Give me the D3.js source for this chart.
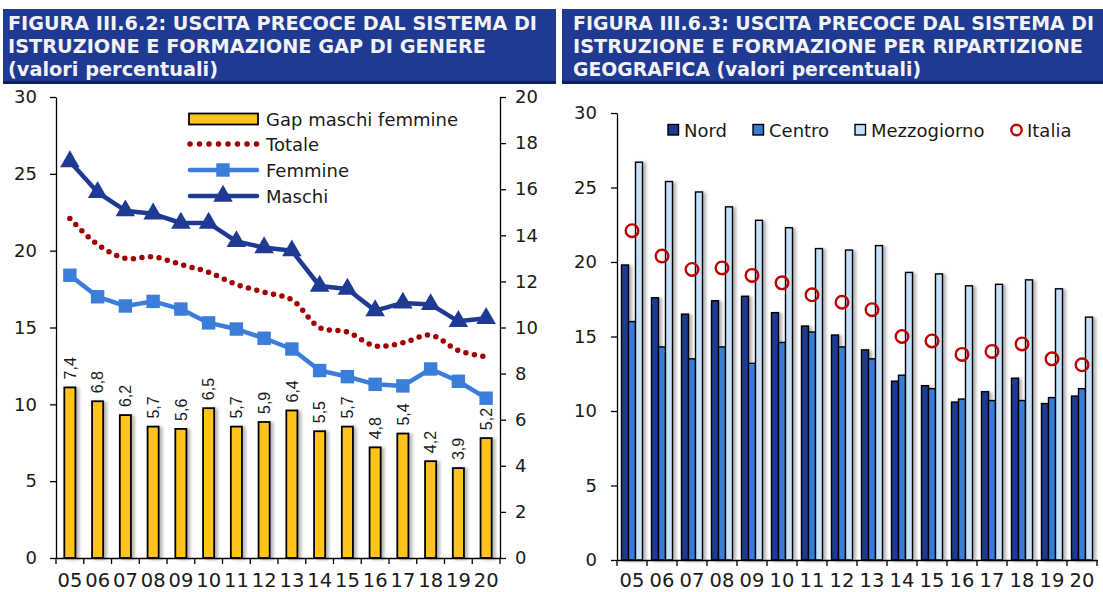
<!DOCTYPE html>
<html><head><meta charset="utf-8">
<script src="https://cdn.jsdelivr.net/npm/d3@7"></script>
<style>
body{margin:0;background:#fff}
svg{display:block}
text{font-family:"DejaVu Sans",sans-serif}
</style>
</head><body>
<svg id="c" width="1103" height="592"></svg>
<script>
// ---------- DATA ----------
const years = ["05","06","07","08","09","10","11","12","13","14","15","16","17","18","19","20"];
// Figure III.6.2
const gap     = [7.4,6.8,6.2,5.7,5.6,6.5,5.7,5.9,6.4,5.5,5.7,4.8,5.4,4.2,3.9,5.2];
const totale  = [22.1,20.4,19.5,19.6,19.1,18.6,17.8,17.3,16.8,15.0,14.7,13.8,14.0,14.5,13.5,13.1];
const femmine = [18.4,17.0,16.4,16.7,16.2,15.3,14.9,14.3,13.6,12.2,11.8,11.3,11.2,12.3,11.5,10.4];
const maschi  = [25.8,23.8,22.6,22.4,21.8,21.8,20.6,20.2,20.0,17.7,17.5,16.1,16.6,16.5,15.4,15.6];
const leftTicks  = [0,5,10,15,20,25,30];
const rightTicks = [0,2,4,6,8,10,12,14,16,18,20];
// Figure III.6.3
const regions = ["Nord","Centro","Mezzogiorno"];
const nord        = [19.8,17.6,16.5,17.4,17.7,16.6,15.7,15.1,14.1,12.0,11.7,10.6,11.3,12.2,10.5,11.0];
const centro      = [16.0,14.3,13.5,14.3,13.2,14.6,15.3,14.3,13.5,12.4,11.5,10.8,10.7,10.7,10.9,11.5];
const mezzogiorno = [26.7,25.4,24.7,23.7,22.8,22.3,20.9,20.8,21.1,19.3,19.2,18.4,18.5,18.8,18.2,16.3];
const italia      = [22.1,20.4,19.5,19.6,19.1,18.6,17.8,17.3,16.8,15.0,14.7,13.8,14.0,14.5,13.5,13.1];
const geoTicks = [0,5,10,15,20,25,30];

// ---------- STYLE ----------
const C = {
  banner:"#1f3a93", bannerEdge:"#0f2060", titleText:"#f2f2f2",
  gap:"#ffc31e", totale:"#a00000", femmine:"#3b7ddb", maschi:"#1f3a93",
  nord:"#1f3a93", centro:"#3a7bd8", mezz:"#c5e0fb", italia:"#c00000", text:"#1a1a1a"
};

const svg = d3.select("#c");
const defs = svg.append("defs");
const f = defs.append("filter").attr("id","sh")
  .attr("x","-60%").attr("y","-10%").attr("width","260%").attr("height","120%");
f.append("feDropShadow").attr("dx",3).attr("dy",1).attr("stdDeviation",1.8)
  .attr("flood-color","#000").attr("flood-opacity",0.28);

// ---------- TITLES ----------
function banner(x, w, lines) {
  svg.append("rect").attr("x",x).attr("y",9).attr("width",w).attr("height",74).attr("fill",C.banner);
  svg.append("rect").attr("x",x).attr("y",81).attr("width",w).attr("height",3).attr("fill",C.bannerEdge);
  lines.forEach(l => {
    svg.append("text").attr("x",l[1]).attr("y",l[2]).text(l[0])
      .attr("font-size",19).attr("font-weight","bold").attr("fill",C.titleText)
      .attr("textLength",l[3]).attr("lengthAdjust","spacingAndGlyphs");
  });
}
banner(3, 553, [
  ["FIGURA III.6.2: USCITA PRECOCE DAL SISTEMA DI", 8, 30, 529],
  ["ISTRUZIONE E FORMAZIONE GAP DI GENERE", 8, 53, 478],
  ["(valori percentuali)", 8, 76, 210]
]);
banner(562, 541, [
  ["FIGURA III.6.3: USCITA PRECOCE DAL SISTEMA DI", 573, 30, 521],
  ["ISTRUZIONE E FORMAZIONE PER RIPARTIZIONE", 573, 53, 510],
  ["GEOGRAFICA (valori percentuali)", 573, 76, 348]
]);

function styleAxis(g, fs) {
  g.attr("font-family","DejaVu Sans").attr("font-size",fs);
  g.selectAll("text").attr("fill",C.text);
  g.selectAll("path,line").attr("stroke","#000").attr("stroke-width",1.3);
}

// ---------- LEFT CHART ----------
const xL = d3.scaleBand().domain(years).range([56,500]);
const yL = d3.scaleLinear().domain([0,30]).range([558,97]);
const yR = d3.scaleLinear().domain([0,20]).range([558,97]);
const cxL = i => xL(years[i]) + xL.bandwidth()/2;

const gL = svg.append("g");
gL.selectAll("rect.gap").data(gap).join("rect").attr("class","gap")
  .attr("x",(d,i)=>xL(years[i]) + xL.bandwidth()*0.3)
  .attr("width",xL.bandwidth()*0.4)
  .attr("y",d=>yR(d)).attr("height",d=>yR(0)-yR(d))
  .attr("fill",C.gap).attr("stroke","#000").attr("stroke-width",1.8)
  .attr("filter","url(#sh)");
gL.selectAll("text.lab").data(gap).join("text").attr("class","lab")
  .attr("transform",(d,i)=>`translate(${cxL(i)},${yR(d)-8}) rotate(-90)`)
  .attr("dy","0.36em").attr("text-anchor","start")
  .style("font-family","'Liberation Sans',Arial,sans-serif").attr("font-size",16).attr("fill",C.text)
  .text(d=>d.toFixed(1).replace(".",","));

// Totale smoothed dotted
gL.append("path").datum(totale)
  .attr("d", d3.line().x((d,i)=>cxL(i)).y(d=>yL(d)).curve(d3.curveCatmullRom.alpha(0.5)))
  .attr("fill","none").attr("stroke",C.totale).attr("stroke-width",5.5)
  .attr("stroke-linecap","round").attr("stroke-dasharray","0 8.6");
// Femmine
gL.append("path").datum(femmine)
  .attr("d", d3.line().x((d,i)=>cxL(i)).y(d=>yL(d)))
  .attr("fill","none").attr("stroke",C.femmine).attr("stroke-width",4.5).attr("stroke-linejoin","round");
gL.selectAll("path.sq").data(femmine).join("path").attr("class","sq")
  .attr("transform",(d,i)=>`translate(${cxL(i)},${yL(d)})`)
  .attr("d", d3.symbol(d3.symbolSquare,180)()).attr("fill",C.femmine);
// Maschi
gL.append("path").datum(maschi)
  .attr("d", d3.line().x((d,i)=>cxL(i)).y(d=>yL(d)))
  .attr("fill","none").attr("stroke",C.maschi).attr("stroke-width",4.5).attr("stroke-linejoin","round");
gL.selectAll("path.tri").data(maschi).join("path").attr("class","tri")
  .attr("transform",(d,i)=>`translate(${cxL(i)},${yL(d)})`)
  .attr("d", d3.symbol(d3.symbolTriangle,165)()).attr("fill",C.maschi);

// Axes
styleAxis(svg.append("g").attr("transform","translate(56,0)")
  .call(d3.axisLeft(yL).tickValues(leftTicks).tickSize(6).tickSizeOuter(0).tickPadding(13)), 18);
styleAxis(svg.append("g").attr("transform","translate(500,0)")
  .call(d3.axisRight(yR).tickValues(rightTicks).tickSize(6).tickSizeOuter(0).tickPadding(9)), 18);
const axL = svg.append("g").attr("transform","translate(0,558)")
  .call(d3.axisBottom(xL).tickSize(0).tickSizeOuter(0).tickPadding(15));
styleAxis(axL, 19.5);
axL.selectAll(".bnd").data(years.map(y=>xL(y)).concat([xL.range()[1]])).join("line").attr("class","bnd")
  .attr("x1",d=>d).attr("x2",d=>d).attr("y1",0).attr("y2",6).attr("stroke","#000").attr("stroke-width",1.3);

// Legend left
const lg = svg.append("g");
const legL = [
  {name:"Gap maschi femmine", y:119, type:"bar"},
  {name:"Totale", y:144, type:"dot"},
  {name:"Femmine", y:170, type:"sq"},
  {name:"Maschi", y:196, type:"tri"}
];
legL.forEach(e => {
  if (e.type==="bar") lg.append("rect").attr("x",189).attr("y",e.y-5.5).attr("width",69).attr("height",11)
      .attr("fill",C.gap).attr("stroke","#000").attr("stroke-width",1.8);
  if (e.type==="dot") lg.append("line").attr("x1",190).attr("x2",258).attr("y1",e.y).attr("y2",e.y)
      .attr("stroke",C.totale).attr("stroke-width",5.5).attr("stroke-linecap","round").attr("stroke-dasharray","0 9.5");
  if (e.type==="sq"||e.type==="tri") {
    const col = e.type==="sq"?C.femmine:C.maschi;
    lg.append("line").attr("x1",190).attr("x2",257).attr("y1",e.y).attr("y2",e.y)
      .attr("stroke",col).attr("stroke-width",4.5).attr("stroke-linecap","round");
    lg.append("path").attr("transform",`translate(223,${e.y})`)
      .attr("d", d3.symbol(e.type==="sq"?d3.symbolSquare:d3.symbolTriangle, e.type==="sq"?180:165)()).attr("fill",col);
  }
  lg.append("text").attr("x",266).attr("y",e.y+6.5).attr("font-size",18).attr("fill",C.text).text(e.name);
});

// ---------- RIGHT CHART ----------
const xG = d3.scaleBand().domain(years).range([617,1097]);
const yG = d3.scaleLinear().domain([0,30]).range([560,113]);
const xS = d3.scaleBand().domain(regions).range([xG.bandwidth()*0.15, xG.bandwidth()*0.85]);
const series = [
  {name:"Nord", vals:nord, col:C.nord},
  {name:"Centro", vals:centro, col:C.centro},
  {name:"Mezzogiorno", vals:mezzogiorno, col:C.mezz}
];
const gR = svg.append("g");
series.forEach(s => {
  gR.selectAll(null).data(s.vals).join("rect")
    .attr("x",(d,i)=>xG(years[i]) + xS(s.name))
    .attr("width",xS.bandwidth())
    .attr("y",d=>yG(d)).attr("height",d=>yG(0)-yG(d))
    .attr("fill",s.col).attr("stroke","#000").attr("stroke-width",1.4)
    .attr("filter","url(#sh)");
});
gR.selectAll("circle.it").data(italia).join("circle").attr("class","it")
  .attr("cx",(d,i)=>xG(years[i]) + xG.bandwidth()/2).attr("cy",d=>yG(d)).attr("r",6.3)
  .attr("fill","none").attr("stroke",C.italia).attr("stroke-width",2.4);

styleAxis(svg.append("g").attr("transform","translate(617,0)")
  .call(d3.axisLeft(yG).tickValues(geoTicks).tickSize(6).tickSizeOuter(0).tickPadding(14)), 18);
const axR = svg.append("g").attr("transform","translate(0,560)")
  .call(d3.axisBottom(xG).tickSize(0).tickSizeOuter(0).tickPadding(13));
styleAxis(axR, 19.5);
axR.selectAll(".bnd").data(years.map(y=>xG(y)).concat([xG.range()[1]])).join("line").attr("class","bnd")
  .attr("x1",d=>d).attr("x2",d=>d).attr("y1",0).attr("y2",6).attr("stroke","#000").attr("stroke-width",1.3);

// Legend right
const lr = svg.append("g");
const legR = [
  {name:"Nord", x:668, col:C.nord, t:"sq"},
  {name:"Centro", x:753, col:C.centro, t:"sq"},
  {name:"Mezzogiorno", x:855, col:C.mezz, t:"sq"},
  {name:"Italia", x:1011, col:C.italia, t:"ci"}
];
legR.forEach(e => {
  if (e.t==="sq") lr.append("rect").attr("x",e.x).attr("y",124.5).attr("width",10.5).attr("height",10.5)
    .attr("fill",e.col).attr("stroke","#000").attr("stroke-width",1.4);
  else lr.append("circle").attr("cx",e.x+5.5).attr("cy",130).attr("r",5.2)
    .attr("fill","none").attr("stroke",e.col).attr("stroke-width",2.4);
  lr.append("text").attr("x",e.x+16).attr("y",136.5).attr("font-size",18).attr("fill",C.text).text(e.name);
});
</script>
</body></html>
